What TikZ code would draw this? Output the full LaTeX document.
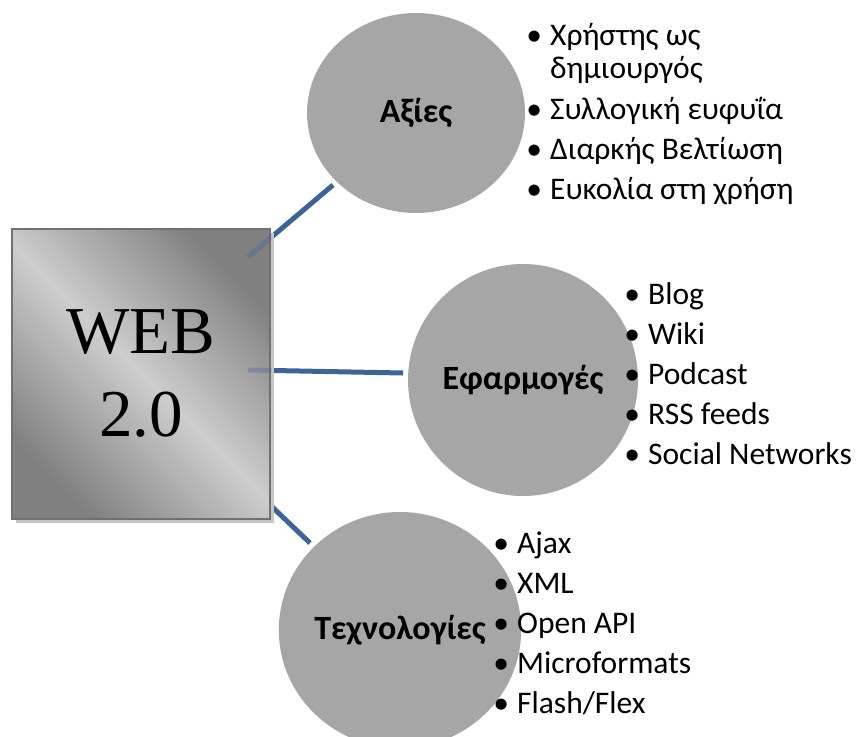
\documentclass[tikz,border=0pt]{standalone}
\usepackage{fontspec}
\setmainfont{Carlito}
\newfontfamily\timesfont{Liberation Serif}
\usetikzlibrary{calc}
\usetikzlibrary{shapes.geometric}

\definecolor{linkblue}{RGB}{62,100,150}
\definecolor{discgray}{RGB}{166,166,166}
\definecolor{boxdark}{RGB}{128,128,128}
\definecolor{boxlight}{RGB}{205,205,205}
\definecolor{boxline}{RGB}{112,112,112}

\newcommand{\bul}{\llap{\makebox[32pt]{•}}}

\begin{document}
\begin{tikzpicture}[x=1pt, y=-1pt,
  disc/.style={ellipse, fill=discgray, inner sep=0pt, font=\fontsize{34}{40}\selectfont\bfseries},
  item/.style={anchor=base west, inner sep=0pt, font=\fontsize{31.5}{38}\selectfont},
  link/.style={linkblue, line width=5pt},
  webbox/.style={rectangle, minimum width=258pt, minimum height=290pt, draw=boxline, line width=2.5pt,
    shading=axis, top color=boxdark, bottom color=boxdark, middle color=boxlight, shading angle=-45,
    align=center, font=\timesfont\fontsize{67}{83}\selectfont}]
\useasboundingbox (0,0) rectangle (856,736);
\clip (0,0) rectangle (856,736);

% the three circles
\node[disc, minimum width=218pt, minimum height=200pt] (axies) at (416,113) {Αξίες};
\node[disc, minimum width=230pt, minimum height=232pt] (efarm) at (523,380) {Εφαρμογές};
\node[disc, minimum width=238pt, minimum height=236pt] (techn) at (400,630) {Τεχνολογίες};

% connectors (they start inside the box)
\coordinate (webA) at (248,257);
\coordinate (webB) at (248,370);
\coordinate (webC) at (268,503);
\coordinate (axiesIn) at (333,185);
\coordinate (efarmIn) at (403,373);
\coordinate (technIn) at (310,543);
\draw[link] (webA) -- (axiesIn);
\draw[link] (webB) -- (efarmIn);
\draw[link] (webC) -- (technIn);

% the box with its shadow
\fill[gray!45] (16,233) rectangle (274,523);
\node[webbox] (web) at (141,374) {WEB\\2.0};
\begin{scope}
\clip (web.south west) rectangle (web.north east);
\draw[link, opacity=.35] (webA) -- (axiesIn);
\draw[link, opacity=.35] (webB) -- (efarmIn);
\end{scope}

% lists
\node[item] (ax1) at (550,45) {\bul Χρήστης ως};
\node[item] (ax1b) at (550,78) {δημιουργός};
\node[item] (ax2) at (550,119) {\bul Συλλογική ευφυΐα};
\node[item] (ax3) at (550,159) {\bul Διαρκής Βελτίωση};
\node[item] (ax4) at (550,199) {\bul Ευκολία στη χρήση};

\foreach \t [count=\i] in {Blog,Wiki,Podcast,RSS feeds,Social Networks}
  \node[item] (ef\i) at (648,264+40*\i) {\bul \t};

\foreach \t [count=\i] in {Ajax,XML,Open API,Microformats,Flash/Flex}
  \node[item] (te\i) at (517,513+40*\i) {\bul \t};
\end{tikzpicture}
\end{document}
